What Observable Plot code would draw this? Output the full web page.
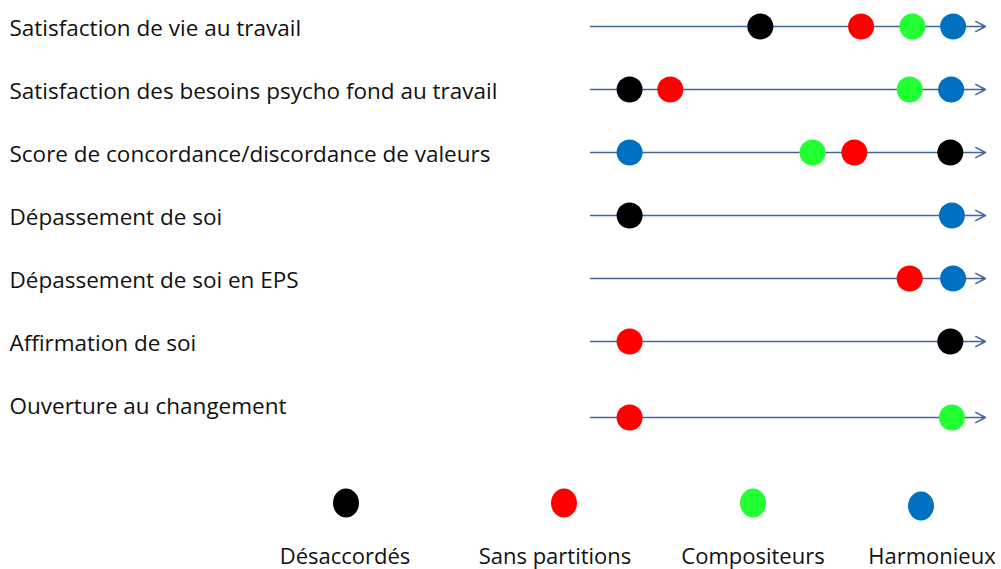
<!DOCTYPE html>
<html><head><meta charset="utf-8">
<script src="https://cdn.jsdelivr.net/npm/d3@7"></script>
<script src="https://cdn.jsdelivr.net/npm/@observablehq/plot@0.6"></script>
<style>
html,body{margin:0;padding:0;background:#fff;}
body{width:1001px;height:569px;font-family:"Open Sans",Lato,sans-serif;}
#chart svg{display:block;}
#legend{position:relative;width:1001px;height:99px;}
.ld{position:absolute;width:26px;height:29px;border-radius:50%;transform:translate(-50%,-50%);}
.ll{position:absolute;transform:translate(-50%,-50%);font-size:22px;line-height:1;color:#111;white-space:nowrap;}
</style></head><body><div id="chart"></div><div id="legend"></div>
<script>
// ---- data ----
const rows = [
  "Satisfaction de vie au travail",
  "Satisfaction des besoins psycho fond au travail",
  "Score de concordance/discordance de valeurs",
  "Dépassement de soi",
  "Dépassement de soi en EPS",
  "Affirmation de soi",
  "Ouverture au changement"
];
const groups = ["Désaccordés", "Sans partitions", "Compositeurs", "Harmonieux"];
const groupColors = ["#000000", "#FF0000", "#22FF33", "#0070C0"];
// relative position on each axis (0 = start, 100 = arrow tip)
const desaccordes    = [43.0,  9.9, 91.1,  9.9, null, 91.1, null];
const sansPartitions = [68.5, 20.2, 66.8, null, 80.8,  9.9,  9.9];
const compositeurs   = [81.5, 80.8, 56.2, null, null, null, 91.5];
const harmonieux     = [91.8, 91.3,  9.9, 91.5, 91.8, null, null];
const axisStart = 0, axisEnd = 100;

// ---- build tables ----
const seriesByGroup = [desaccordes, sansPartitions, compositeurs, harmonieux];
const points = [];
seriesByGroup.forEach((vals, g) => vals.forEach((v, i) => {
  if (v != null) points.push({row: rows[i], group: groups[g], value: v});
}));
const axes = rows.map(r => ({row: r, start: axisStart, end: axisEnd}));
const lastRow = rows[rows.length - 1];
const notLast = d => d.row !== lastRow;
const isLast = d => d.row === lastRow;

const arrowOpts = {x1: "start", x2: "end", y1: "row", y2: "row", stroke: "#41659f",
  strokeWidth: 1.5, headLength: 11, headAngle: 55};
const dotOpts = {x: "value", y: "row", fill: "group", r: 13, stroke: null};

const chart = Plot.plot({
  width: 1001, height: 470,
  margin: 0,
  x: {domain: [0, 100], range: [590, 985], axis: null},
  y: {type: "point", domain: rows, range: [24, 405.6], padding: 0, axis: null},
  color: {domain: groups, range: groupColors},
  marks: [
    Plot.arrow(axes.filter(notLast), arrowOpts),
    Plot.arrow(axes.filter(isLast), {...arrowOpts, dy: 13}),
    Plot.dot(points.filter(notLast), dotOpts),
    Plot.dot(points.filter(isLast), {...dotOpts, dy: 13}),
    Plot.text(rows, {y: d => d, text: d => d, frameAnchor: "left", textAnchor: "start",
      dx: 9, dy: 2, fontSize: 22.5, fontFamily: "Open Sans", fill: "#111"})
  ]
});
document.getElementById("chart").appendChild(chart);

// ---- legend (HTML, below the SVG) ----
const legendDotX = [346, 563.5, 752.5, 920.5];
const legendLabelX = [345, 555, 753, 932];
const legend = document.getElementById("legend");
groups.forEach((g, i) => {
  const dot = document.createElement("div");
  dot.className = "ld";
  dot.style.left = legendDotX[i] + "px";
  dot.style.top = (i === 3 ? 36 : 33) + "px";
  dot.style.background = groupColors[i];
  legend.appendChild(dot);
  const lab = document.createElement("div");
  lab.className = "ll";
  lab.style.left = legendLabelX[i] + "px";
  lab.style.top = "85px";
  lab.textContent = g;
  legend.appendChild(lab);
});
</script></body></html>
